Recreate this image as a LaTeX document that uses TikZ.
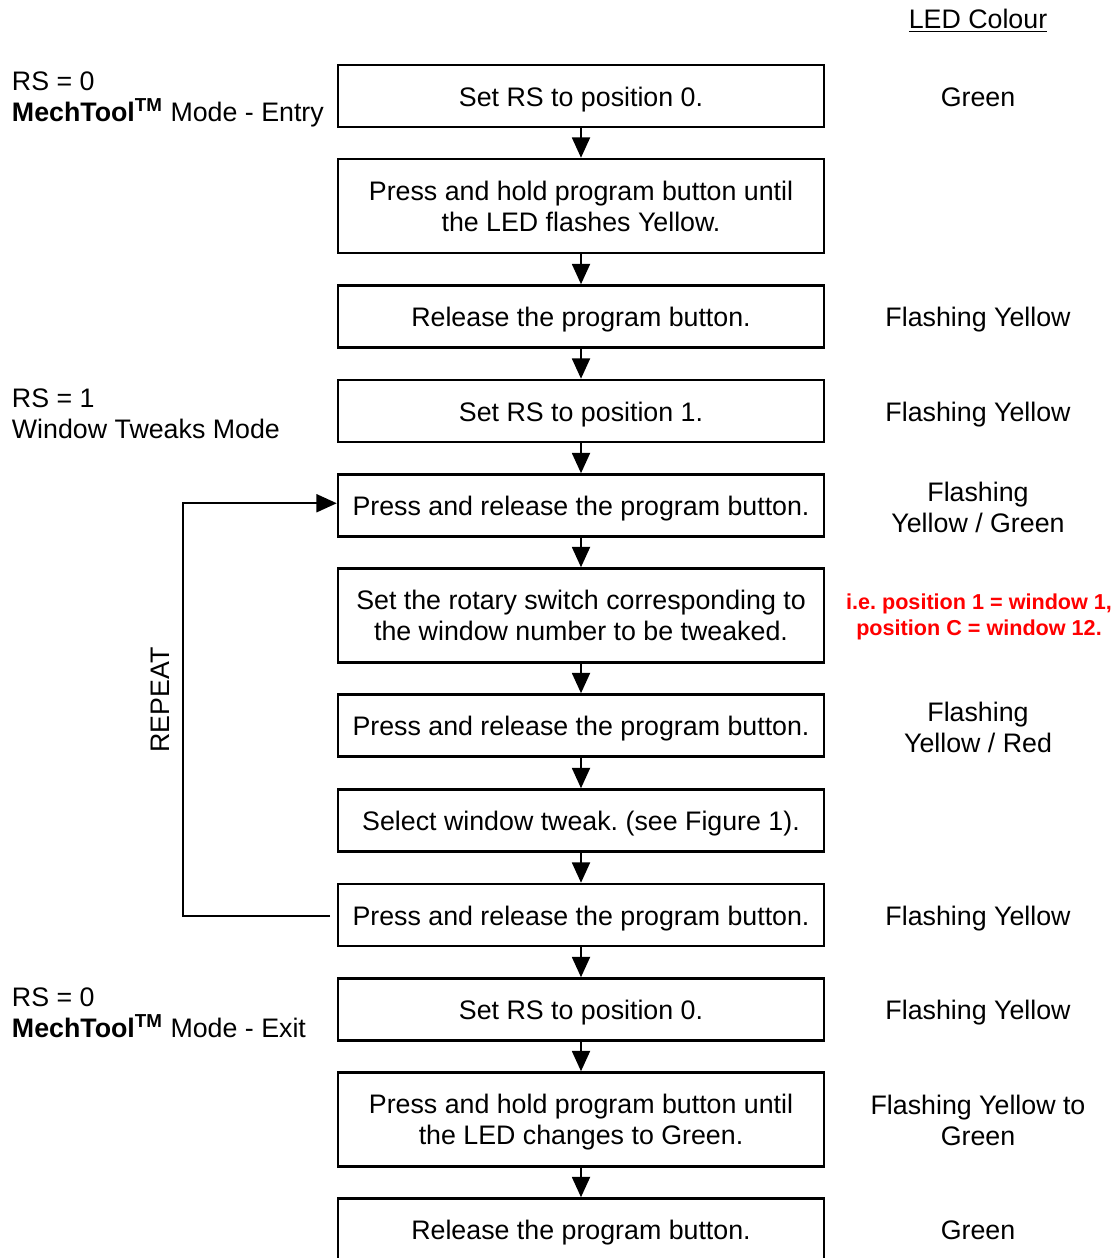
\documentclass[tikz,border=0pt]{standalone}
\usepackage{fontspec}
\setmainfont{Liberation Sans}
\usetikzlibrary{arrows.meta}
\frenchspacing

\tikzset{
  stepbox/.style={draw, line width=1.1pt, minimum width=216pt, align=center, inner sep=2pt},
  onerow/.style={stepbox, minimum height=27.6pt, text height=9pt, text depth=0pt},
  tworow/.style={stepbox, minimum height=41.8pt, text depth=0pt},
  ledtxt/.style={align=center},
  modetxt/.style={anchor=west, align=left},
  arr/.style={line width=0.8pt, -{Triangle[length=9pt,width=8pt]}}
}

\begin{document}
\begin{tikzpicture}[x=0.4444pt,y=-0.4444pt,font=\fontsize{11.9}{13.8}\selectfont]
  \useasboundingbox (0,0) rectangle (1115,1258);

  % steps
  \node[onerow] (b1)  at (581,96)    {Set RS to position 0.};
  \node[tworow] (b2)  at (581,206)   {Press and hold program button until\\the LED flashes Yellow.};
  \node[onerow] (b3)  at (581,316.5) {Release the program button.};
  \node[onerow] (b4)  at (581,411)   {Set RS to position 1.};
  \node[onerow] (b5)  at (581,505.5) {Press and release the program button.};
  \node[tworow] (b6)  at (581,615.5) {Set the rotary switch corresponding to\\the window number to be tweaked.};
  \node[onerow] (b7)  at (581,725.5) {Press and release the program button.};
  \node[onerow] (b8)  at (581,820.5) {Select window tweak. (see Figure 1).};
  \node[onerow] (b9)  at (581,915)   {Press and release the program button.};
  \node[onerow] (b10) at (581,1009.5){Set RS to position 0.};
  \node[tworow] (b11) at (581,1119.5){Press and hold program button until\\the LED changes to Green.};
  \node[onerow] (b12) at (581,1229.5){Release the program button.};

  \draw[arr] (b1) -- (b2);
  \draw[arr] (b2) -- (b3);
  \draw[arr] (b3) -- (b4);
  \draw[arr] (b4) -- (b5);
  \draw[arr] (b5) -- (b6);
  \draw[arr] (b6) -- (b7);
  \draw[arr] (b7) -- (b8);
  \draw[arr] (b8) -- (b9);
  \draw[arr] (b9) -- (b10);
  \draw[arr] (b10) -- (b11);
  \draw[arr] (b11) -- (b12);

  % repeat loop
  \coordinate (r0) at (330,916);
  \coordinate (r1) at (183,916);
  \draw[arr] (r0) -- (r1) |- ([yshift=1pt]b5.west);
  \node[rotate=90] (rep) at (160,700) {REPEAT};

  % LED colours
  \node[ledtxt] (c0)  at (978,21)   {\underline{LED Colour}};
  \node[ledtxt] (c1)  at (978,97)   {Green};
  \node[ledtxt] (c3)  at (978,320)  {Flashing Yellow};
  \node[ledtxt] (c4)  at (978,415)  {Flashing Yellow};
  \node[ledtxt] (c5)  at (978,507)  {Flashing\\Yellow / Green};
  \node[ledtxt,text=red,font=\fontsize{9.6}{11.5}\selectfont\bfseries] (c6) at (979,617)
    {i.e. position 1 = window 1,\\position C = window 12.};
  \node[ledtxt] (c7)  at (978,727)  {Flashing\\Yellow / Red};
  \node[ledtxt] (c9)  at (978,919)  {Flashing Yellow};
  \node[ledtxt] (c10) at (978,1013) {Flashing Yellow};
  \node[ledtxt] (c11) at (978,1120) {Flashing Yellow to\\Green};
  \node[ledtxt] (c12) at (978,1230) {Green};

  % modes
  \node[modetxt] (m1) at (4,99)   {RS = 0\\\textbf{MechTool\textsuperscript{TM}} Mode - Entry};
  \node[modetxt] (m4) at (4,414)  {RS = 1\\Window Tweaks Mode};
  \node[modetxt] (m10) at (4,1013) {RS = 0\\\textbf{MechTool\textsuperscript{TM}} Mode - Exit};
\end{tikzpicture}
\end{document}
